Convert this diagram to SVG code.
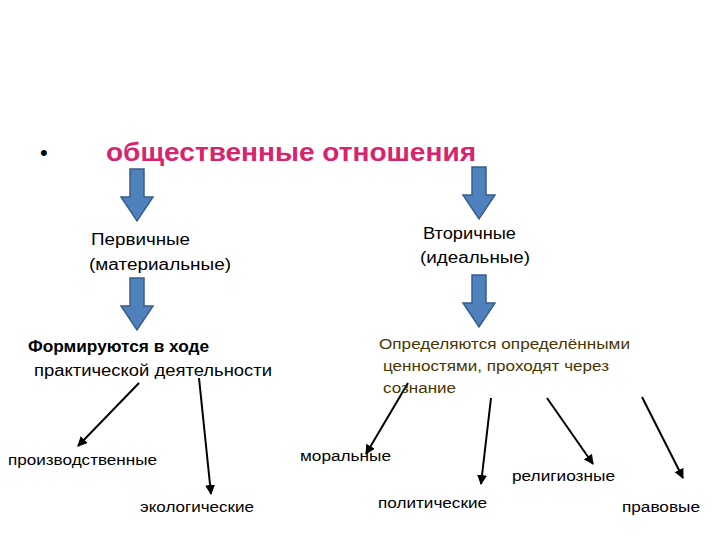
<svg xmlns="http://www.w3.org/2000/svg" width="720" height="540" viewBox="0 0 720 540">
<defs>
<style>
.t{font-family:"Liberation Sans",Arial,sans-serif;font-size:16px;fill:#000}
.s{font-size:14px}
.o{font-size:14px;fill:#4a3500}
.b{fill:#4f81bd;stroke:#385d8a;stroke-width:1.5}
.l{stroke:#000;stroke-width:2;fill:none;marker-end:url(#ah)}
</style>
<marker id="ah" viewBox="0 0 10 10" refX="9" refY="5" markerWidth="5" markerHeight="5" orient="auto"><path d="M0,0L10,5L0,10z" fill="#000"/></marker>
<path id="ba" d="M-7,0H7V28H16L0,52L-16,28H-7Z"/>
</defs>
<rect width="720" height="540" fill="#fff"/>
<g id="title"><text x="40" y="160" font-family="Liberation Sans,sans-serif" font-size="22">•</text>
<text x="106" y="161" font-family="Liberation Sans,Arial,sans-serif" font-size="26" font-weight="bold" fill="#d6246e" textLength="370" lengthAdjust="spacingAndGlyphs">общественные отношения</text></g>
<g id="connectors">
<use href="#ba" class="b" x="137" y="169"/>
<use href="#ba" class="b" x="137" y="278"/>
<use href="#ba" class="b" x="479" y="167"/>
<use href="#ba" class="b" x="479" y="275"/>
<path class="l" d="M139,383L78,446"/>
<path class="l" d="M199,378L211,494"/>
<path class="l" d="M408,383L366,454"/>
<path class="l" d="M491,398L481,484"/>
<path class="l" d="M547,398L593,464"/>
<path class="l" d="M642,397L683,478"/>
</g>
<g id="primary"><text class="t" x="91" y="245" textLength="99" lengthAdjust="spacingAndGlyphs">Первичные</text><text class="t" x="89" y="270" textLength="142" lengthAdjust="spacingAndGlyphs">(материальные)</text></g>
<g id="secondary"><text class="t" x="423" y="239" textLength="93" lengthAdjust="spacingAndGlyphs">Вторичные</text><text class="t" x="420" y="263" textLength="110" lengthAdjust="spacingAndGlyphs">(идеальные)</text></g>
<g id="formed"><text class="t" x="28" y="352" font-weight="bold" textLength="181" lengthAdjust="spacingAndGlyphs">Формируются в ходе</text><text class="t" x="34" y="376" textLength="238" lengthAdjust="spacingAndGlyphs">практической деятельности</text></g>
<g id="defined"><text class="t o" x="379" y="349" textLength="251" lengthAdjust="spacingAndGlyphs">Определяются определёнными</text><text class="t o" x="383" y="371" textLength="226" lengthAdjust="spacingAndGlyphs">ценностями, проходят через</text><text class="t o" x="383" y="393" textLength="73" lengthAdjust="spacingAndGlyphs">сознание</text></g>
<g id="n1"><text class="t s" x="8" y="465" textLength="149" lengthAdjust="spacingAndGlyphs">производственные</text></g>
<g id="n2"><text class="t s" x="140" y="512" textLength="114" lengthAdjust="spacingAndGlyphs">экологические</text></g>
<g id="n3"><text class="t s" x="300" y="461" textLength="91" lengthAdjust="spacingAndGlyphs">моральные</text></g>
<g id="n4"><text class="t s" x="378" y="508" textLength="109" lengthAdjust="spacingAndGlyphs">политические</text></g>
<g id="n5"><text class="t s" x="512" y="481" textLength="103" lengthAdjust="spacingAndGlyphs">религиозные</text></g>
<g id="n6"><text class="t s" x="622" y="512" textLength="78" lengthAdjust="spacingAndGlyphs">правовые</text></g>
</svg>
